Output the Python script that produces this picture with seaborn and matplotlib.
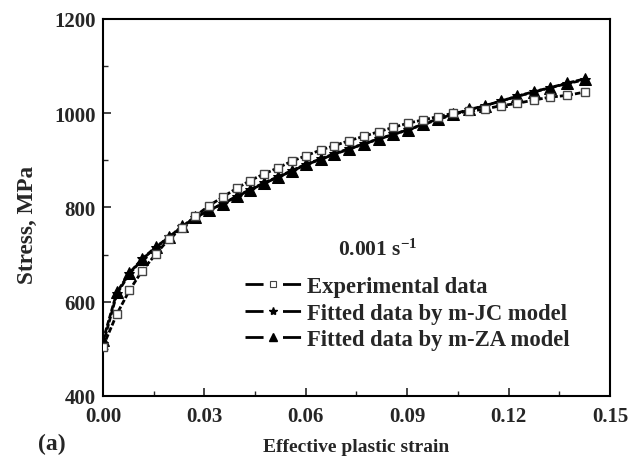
import matplotlib
matplotlib.use("Agg")
import matplotlib.pyplot as plt
from matplotlib.lines import Line2D
from matplotlib.ticker import MultipleLocator
import seaborn as sns
import pandas as pd

# ---- data ----
strain = [0.0, 0.0041, 0.0078, 0.0116, 0.0156, 0.0195, 0.0234, 0.0272, 0.0314, 0.0354,
          0.0396, 0.0435, 0.0476, 0.0517, 0.0558, 0.0601, 0.0644, 0.0684, 0.0729, 0.0772,
          0.0816, 0.0859, 0.0903, 0.0948, 0.0992, 0.1036, 0.1084, 0.1130, 0.1178, 0.1226,
          0.1275, 0.1322, 0.1374, 0.1426]
exp_stress = [505, 574, 624, 666, 701, 733, 756, 781, 804, 822,
              841, 857, 871, 884, 898, 910, 922, 931, 942, 951,
              961, 970, 979, 986, 993, 1000, 1004, 1009, 1016, 1021,
              1028, 1034, 1038, 1045]
jc_stress = [510, 617, 659, 690, 715, 737, 759, 778, 794, 808,
             823, 837, 851, 864, 877, 891, 902, 913, 924, 935,
             945, 955, 965, 976, 987, 997, 1007, 1016, 1026, 1036,
             1045, 1054, 1063, 1071]
za_stress = [518, 620, 661, 691, 716, 737, 760, 779, 794, 808,
             824, 838, 852, 865, 878, 892, 903, 914, 925, 935,
             946, 955, 965, 977, 988, 998, 1008, 1016, 1026, 1036,
             1046, 1054, 1064, 1073]
labels = ["Experimental data", "Fitted data by m-JC model", "Fitted data by m-ZA model"]
rate_text = "0.001 s$^{-1}$"
xticks = [0.00, 0.03, 0.06, 0.09, 0.12, 0.15]
yticks = [400, 600, 800, 1000, 1200]

sns.set_theme(style="ticks")
plt.rcParams["font.family"] = ["Liberation Serif", "DejaVu Serif"]
plt.rcParams["font.weight"] = "bold"
plt.rcParams["mathtext.fontset"] = "custom"
plt.rcParams["mathtext.rm"] = "Liberation Serif:bold"
plt.rcParams["mathtext.default"] = "rm"
plt.rcParams["lines.scale_dashes"] = False

fig = plt.figure(figsize=(6.32, 4.64), dpi=100)
ax = fig.add_axes([0.163, 0.1444, 0.802, 0.8125])

df = pd.DataFrame({"strain": strain, "exp": exp_stress, "jc": jc_stress, "za": za_stress})
dash = (0, (4, 1.5))

sns.lineplot(data=df, x="strain", y="za", ax=ax, color="black", lw=2, linestyle=dash,
             marker="^", markersize=8, markerfacecolor="black", markeredgecolor="black",
             sort=False, zorder=3)
sns.lineplot(data=df, x="strain", y="jc", ax=ax, color="black", lw=2, linestyle=dash,
             marker="*", markersize=7, markerfacecolor="black", markeredgecolor="black",
             sort=False, zorder=2)
sns.lineplot(data=df, x="strain", y="exp", ax=ax, color="black", lw=2, linestyle=dash,
             marker="s", markersize=6, markerfacecolor="white", markeredgecolor="#444444",
             markeredgewidth=1, sort=False, zorder=4)

ax.set_xlim(0, 0.15)
ax.set_ylim(400, 1200)
ax.set_xticks(xticks)
ax.set_xticklabels([f"{t:.2f}" for t in xticks])
ax.set_yticks(yticks)
ax.xaxis.set_minor_locator(MultipleLocator(0.015))
ax.yaxis.set_minor_locator(MultipleLocator(100))
ax.tick_params(which="major", direction="in", length=6, width=1.2, labelsize=15)
ax.tick_params(axis="x", which="major", pad=7)
ax.tick_params(axis="y", which="major", pad=5.5)
ax.tick_params(which="minor", direction="in", length=3.5, width=1.0)
for s in ax.spines.values():
    s.set_linewidth(1.5)
    s.set_color("black")
for lab in ax.get_xticklabels() + ax.get_yticklabels():
    lab.set_fontweight("bold")

ax.set_xlabel("Effective plastic strain", fontsize=14, fontweight="bold", labelpad=9)
ax.set_ylabel("Stress, MPa", fontsize=16.7, fontweight="bold")
ax.yaxis.set_label_coords(-0.128, 0.456)
fig.text(0.06, 0.043, "(a)", fontsize=17, fontweight="bold", ha="left", va="center")

ax.text(0.542, 0.39, rate_text, transform=ax.transAxes, fontsize=15.5, fontweight="bold",
        ha="center", va="center")

hstyle = (0, (13, 14))
handles = [
    Line2D([], [], color="black", lw=2, linestyle=hstyle, marker="s", markersize=5,
           markerfacecolor="white", markeredgecolor="#444444", markeredgewidth=0.8),
    Line2D([], [], color="black", lw=2, linestyle=hstyle, marker="*", markersize=6,
           markerfacecolor="black", markeredgecolor="black"),
    Line2D([], [], color="black", lw=2, linestyle=hstyle, marker="^", markersize=6,
           markerfacecolor="black", markeredgecolor="black"),
]
leg = ax.legend(handles, labels, loc="upper left", bbox_to_anchor=(0.28, 0.318),
                frameon=False, handlelength=2.52, handletextpad=0.22,
                labelspacing=0.24, borderpad=0, borderaxespad=0,
                prop={"weight": "bold", "size": 16.3})

fig.savefig("out.png", dpi=100)
